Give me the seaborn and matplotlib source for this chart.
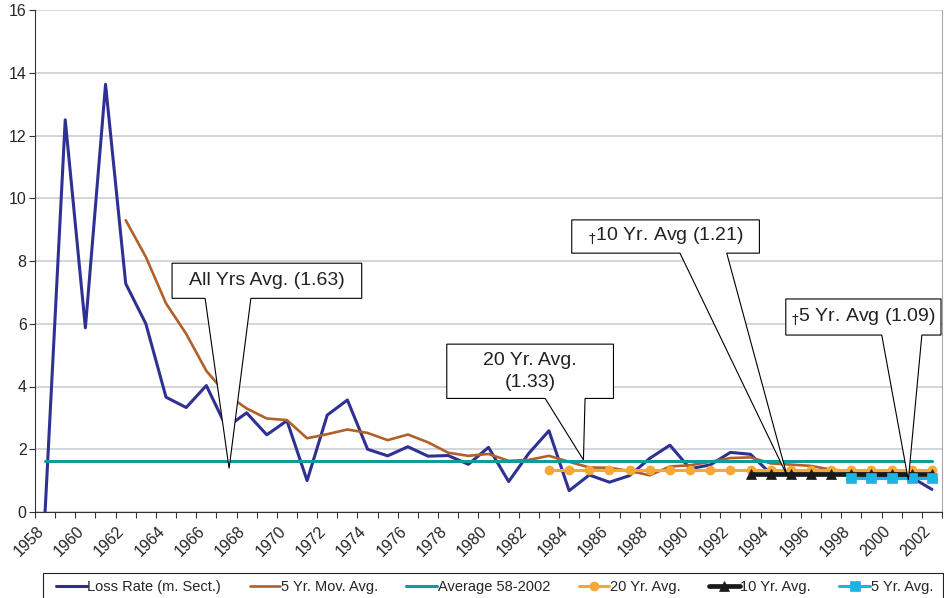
import matplotlib
matplotlib.use("Agg")
import matplotlib.pyplot as plt
import matplotlib.transforms as mtransforms
from matplotlib.patches import Polygon, Rectangle
import numpy as np
import pandas as pd
import seaborn as sns

# data
years = list(range(1958, 2003))
loss_rate = [0.0, 12.5, 5.87, 13.63, 7.28, 6.0, 3.66, 3.33, 4.03, 2.7,
             3.16, 2.46, 2.91, 1.0, 3.09, 3.57, 2.0, 1.79, 2.08, 1.78,
             1.8, 1.52, 2.06, 0.97, 1.87, 2.59, 0.68, 1.18, 0.95, 1.16,
             1.71, 2.13, 1.38, 1.5, 1.9, 1.84, 1.22, 1.2, 1.22, 1.2,
             1.2, 1.16, 1.15, 1.1, 0.72]
mov_avg_5yr = [np.nan, np.nan, np.nan, np.nan, 9.3, 8.13, 6.65, 5.68, 4.5, 3.75,
               3.3, 2.98, 2.93, 2.35, 2.48, 2.63, 2.52, 2.29, 2.47, 2.22,
               1.89, 1.79, 1.85, 1.63, 1.66, 1.79, 1.6, 1.42, 1.41, 1.31,
               1.17, 1.45, 1.49, 1.6, 1.72, 1.74, 1.55, 1.51, 1.47, 1.35,
               1.3, 1.27, 1.24, 1.22, 1.18]
avg_all = 1.63
avg_20yr, start_20yr = 1.33, 1983
avg_10yr, start_10yr = 1.21, 1993
avg_5yr, start_5yr = 1.09, 1998

labels = ["Loss Rate (m. Sect.)", "5 Yr. Mov. Avg.", "Average 58-2002",
          "20 Yr. Avg.", "10 Yr. Avg.", "5 Yr. Avg."]

yrs = np.array(years)
df = pd.DataFrame({
    "year": yrs,
    labels[0]: loss_rate,
    labels[1]: mov_avg_5yr,
    labels[2]: np.full(len(yrs), avg_all),
    labels[3]: np.where(yrs >= start_20yr, avg_20yr, np.nan),
    labels[4]: np.where(yrs >= start_10yr, avg_10yr, np.nan),
    labels[5]: np.where(yrs >= start_5yr, avg_5yr, np.nan),
})

styles = {
    labels[0]: dict(color="#2e3192", lw=2.2),
    labels[1]: dict(color="#b0602a", lw=1.9),
    labels[2]: dict(color="#119b9b", lw=2.2),
    labels[3]: dict(color="#f5a833", lw=2.2, marker="o", ms=6.5, mec="#f5a833"),
    labels[4]: dict(color="#1a1a1a", lw=3.4, marker="^", ms=6.5, mec="#1a1a1a"),
    labels[5]: dict(color="#1cb5e3", lw=2.2, marker="s", ms=6.5, mec="#1cb5e3"),
}

sns.set_style("white")
plt.rcParams["font.family"] = ["Liberation Sans", "DejaVu Sans"]

fig = plt.figure(figsize=(9.45, 5.98), dpi=100)
ax = fig.add_axes([35 / 945, 1 - 512 / 598, 907 / 945, 502 / 598])

for name in labels:
    sub = df[["year", name]].dropna()
    st = styles[name]
    sns.lineplot(data=sub, x="year", y=name, ax=ax, label=name, color=st["color"],
                 linewidth=st["lw"], marker=st.get("marker"), markersize=st.get("ms", 0),
                 markeredgecolor=st.get("mec"), markeredgewidth=0.5)

ax.set_xlim(1957.5, 2002.5)
ax.set_ylim(0, 16)
ax.set_yticks(np.arange(0, 17, 2))
ax.set_xticks(years[::2])
ax.set_xticks(np.arange(1957.5, 2003, 1), minor=True)
ax.set_xlabel("")
ax.set_ylabel("")
ax.grid(axis="y", color="#c6cbd3", lw=1.1)
ax.set_axisbelow(True)
ax.spines["top"].set_visible(False)
ax.spines["right"].set_color("#a8a8a8")
ax.spines["left"].set_color("#333333")
ax.spines["bottom"].set_color("#333333")
ax.tick_params(axis="y", length=4, width=0.8, color="#333333", labelsize=11.5, pad=2,
               left=True)
ax.tick_params(axis="x", which="major", length=0, labelsize=11.5, pad=7)
ax.tick_params(axis="x", which="minor", length=4, width=0.8, color="#333333", bottom=True)
shift = mtransforms.ScaledTranslation(-0.09, -0.015, fig.dpi_scale_trans)
for t in ax.get_xticklabels():
    t.set_rotation(45)
    t.set_ha("right")
    t.set_rotation_mode("anchor")
    t.set_transform(t.get_transform() + shift)

# callouts: box (x0, x1, y0, y1), pointer base (xa, xb), tip (xt, yt), all in data units
dag = r"${}_{\dagger}$"
callouts = [
    ("All Yrs Avg. (1.63)", (1964.3, 1973.71, 6.81, 7.93), (1965.94, 1968.21), (1967.13, 1.39)),
    ("20 Yr. Avg.\n(1.33)", (1977.93, 1986.2, 3.62, 5.35), (1982.81, 1984.79), (1984.71, 1.66)),
    (dag + "10 Yr. Avg (1.21)", (1984.13, 1993.44, 8.25, 9.31), (1989.5, 1991.82), (1994.8, 1.18)),
    (dag + "5 Yr. Avg (1.09)", (1994.75, 2002.45, 5.64, 6.79), (1999.51, 2001.5), (2000.83, 1.02)),
]
for text, (x0, x1, y0, y1), (xa, xb), (xt, yt) in callouts:
    verts = [(x0, y1), (x1, y1), (x1, y0), (xb, y0), (xt, yt), (xa, y0), (x0, y0)]
    ax.add_patch(Polygon(verts, closed=True, facecolor="white", edgecolor="black",
                         lw=0.8, zorder=10, clip_on=False))
    ax.text((x0 + x1) / 2, (y0 + y1) / 2, text, ha="center", va="center",
            fontsize=14, color="#222222", zorder=11, linespacing=1.35)

handles, labs = ax.get_legend_handles_labels()
ax.get_legend().remove()
fig.patches.append(Rectangle((43 / 945, -0.05), (943 - 43) / 945, 1 - 573 / 598 + 0.05,
                             transform=fig.transFigure, facecolor="none",
                             edgecolor="#222222", lw=0.8))
fig.legend(handles, labs, loc="center left", bbox_to_anchor=(56 / 945, 1 - 587 / 598),
           ncol=6, frameon=False, fontsize=10.5, handlelength=2.1, handletextpad=0.05,
           columnspacing=1.95, borderpad=0, borderaxespad=0)

fig.savefig("out.png", dpi=100)
